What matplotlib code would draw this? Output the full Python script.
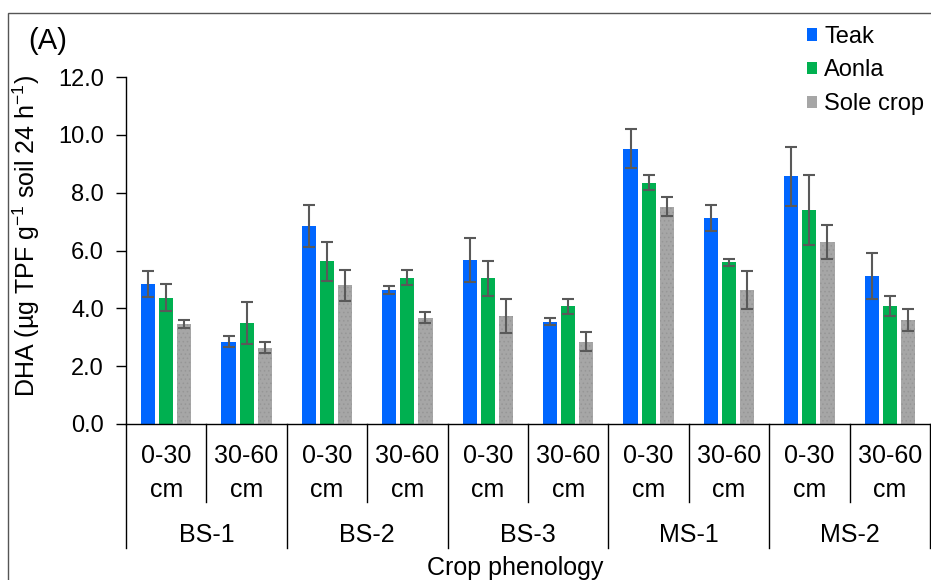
import matplotlib
matplotlib.use("Agg")
import matplotlib.pyplot as plt
import matplotlib.transforms as mtransforms
from matplotlib.patches import Patch, Rectangle
import numpy as np

plt.rcParams['font.family'] = ['Liberation Sans', 'DejaVu Sans']
plt.rcParams['mathtext.fontset'] = 'custom'
plt.rcParams['mathtext.rm'] = 'Liberation Sans'
plt.rcParams['mathtext.it'] = 'Liberation Sans:italic'
plt.rcParams['hatch.linewidth'] = 0.6

# data
stages = ['BS-1', 'BS-2', 'BS-3', 'MS-1', 'MS-2']
depths = ['0-30', '30-60']
series = ['Teak', 'Aonla', 'Sole crop']
teak = [4.85, 2.85, 6.85, 4.64, 5.67, 3.54, 9.52, 7.12, 8.56, 5.12]
teak_err = [0.45, 0.20, 0.73, 0.14, 0.75, 0.11, 0.68, 0.46, 1.01, 0.81]
aonla = [4.37, 3.48, 5.62, 5.06, 5.04, 4.08, 8.35, 5.59, 7.39, 4.08]
aonla_err = [0.47, 0.73, 0.68, 0.26, 0.61, 0.26, 0.27, 0.13, 1.21, 0.34]
sole = [3.46, 2.64, 4.79, 3.68, 3.74, 2.85, 7.52, 4.64, 6.29, 3.60]
sole_err = [0.13, 0.20, 0.52, 0.18, 0.60, 0.32, 0.33, 0.66, 0.60, 0.39]

colors = ['#0066FF', '#00B050', '#A6A6A6']
FS = 17

fig = plt.figure(figsize=(9.31, 5.80), dpi=100)
ax = fig.add_axes([126 / 931, 1 - 424 / 580, 804 / 931, 347 / 580])

x = np.arange(len(teak))
w = 0.175
step = 0.225
vals = [teak, aonla, sole]
errs = [teak_err, aonla_err, sole_err]
for i, (v, e, c) in enumerate(zip(vals, errs, colors)):
    kw = dict(color=c, linewidth=0)
    if i == 2:
        kw.update(hatch='....', edgecolor='#969696')
    ax.bar(x + (i - 1) * step, v, w, yerr=e, capsize=4,
           error_kw=dict(ecolor='#595959', elinewidth=1.5, capthick=1.5), **kw)

ax.set_xlim(-0.5, len(teak) - 0.5)
ax.set_ylim(0, 12)
ax.set_yticks(np.arange(0, 12.1, 2))
ax.set_yticklabels([f'{t:.1f}' for t in np.arange(0, 12.1, 2)], fontsize=FS)
ax.tick_params(axis='y', direction='out', length=7, width=1, pad=9)
ax.set_xticks([])
for s in ['top', 'right']:
    ax.spines[s].set_visible(False)
ax.spines['left'].set_linewidth(1)
ax.spines['bottom'].set_linewidth(1)

ax.set_ylabel(r'DHA (µg TPF g$^{-1}$ soil 24 h$^{-1}$)', fontsize=18)
ax.yaxis.set_label_coords(-0.105, 0.542)

# multi-level category axis
trans = mtransforms.blended_transform_factory(ax.transData, ax.transAxes)
for k in range(len(teak) + 1):
    xb = k - 0.5
    y_end = -0.357 if k % 2 == 0 else -0.225
    ax.plot([xb, xb], [0, y_end], color='black', lw=1, transform=trans, clip_on=False)
for k in range(len(teak)):
    ax.text(k, -0.1124, depths[k % 2], transform=trans, ha='center', va='baseline', fontsize=18)
    ax.text(k, -0.2104, 'cm', transform=trans, ha='center', va='baseline', fontsize=18)
for g, name in enumerate(stages):
    ax.text(2 * g + 0.5, -0.340, name, transform=trans, ha='center', va='baseline', fontsize=18)
fig.text(515 / 931, 1 - 575 / 580, 'Crop phenology', ha='center', va='baseline', fontsize=18)

fig.text(28 / 931, 1 - 41 / 580, '(A)', fontsize=21, ha='left', va='center')

handles = [Patch(facecolor=c, edgecolor='none') for c in colors]
fig.legend(handles, series, loc='upper right', bbox_to_anchor=(1.003, 0.972), frameon=False,
           fontsize=FS, handlelength=0.45, handleheight=0.45, handletextpad=0.3,
           labelspacing=0.5, borderaxespad=0)

# figure frame (top and left visible)
fig.patches.append(Rectangle((8 / 931, -0.1), 1.2, 1 - 13 / 580 + 0.1, transform=fig.transFigure,
                             fill=False, edgecolor='#555555', lw=1))

fig.savefig('out.png', dpi=100)
